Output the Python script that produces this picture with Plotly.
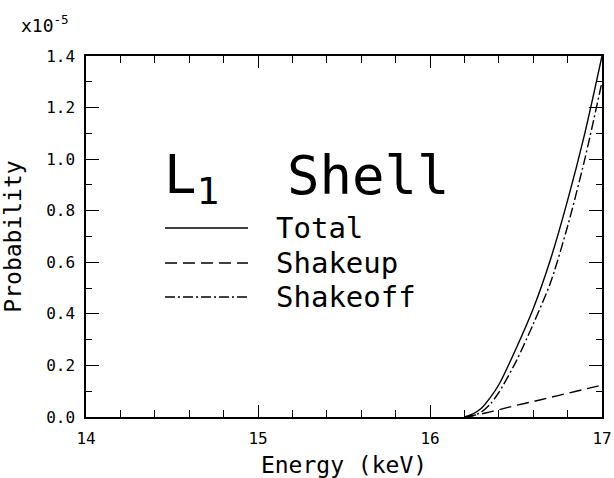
import plotly.graph_objects as go

# ---- data (probability in units of 1e-5) ----
energy_kev = [16.2, 16.25, 16.3, 16.35, 16.4, 16.5, 16.6, 16.7, 16.8, 16.9, 17.0]
total = [0.0, 0.012, 0.035, 0.075, 0.125, 0.265, 0.42, 0.61, 0.84, 1.10, 1.40]
shakeup = [0.0, 0.006, 0.012, 0.020, 0.028, 0.045, 0.060, 0.076, 0.092, 0.108, 0.124]
shakeoff = [0.0, 0.005, 0.02, 0.05, 0.095, 0.215, 0.36, 0.52, 0.74, 1.00, 1.30]

x_tickvals = [14, 15, 16, 17]
x_ticktext = ["14", "15", "16", "17"]
y_tickvals = [0.0, 0.2, 0.4, 0.6, 0.8, 1.0, 1.2, 1.4]
y_ticktext = ["0.0", "0.2", "0.4", "0.6", "0.8", "1.0", "1.2", "1.4"]

series_names = ["Total", "Shakeup", "Shakeoff"]
series_values = [total, shakeup, shakeoff]
series_dash = ["solid", "12px,6px", "10px,3px,2px,3px"]

FONT = "DejaVu Sans Mono"
W, H = 614, 478
L, R, T, B = 86, 12, 56, 61
PW, PH = W - L - R, H - T - B


def px(xp):
    return (xp - L) / PW


def py(yp):
    return 1 - (yp - T) / PH


fig = go.Figure()
for name, vals, dash in zip(series_names, series_values, series_dash):
    fig.add_trace(go.Scatter(x=energy_kev, y=vals, mode="lines", name=name,
                             line=dict(color="black", width=1.4, dash=dash, shape="spline",
                                       smoothing=0.8),
                             showlegend=False))

axis_common = dict(showline=True, linecolor="black", linewidth=1.5, mirror="ticks",
                   ticks="inside", tickcolor="black", tickwidth=1.2, automargin=False,
                   showgrid=False, zeroline=False,
                   tickfont=dict(family=FONT, size=16, color="black"))

fig.update_xaxes(range=[14, 17], tickvals=x_tickvals, ticktext=x_ticktext, ticklen=12,
                 ticklabelstandoff=6,
                 minor=dict(ticks="inside", ticklen=7, dtick=0.2, tickcolor="black", tickwidth=1.2),
                 title=dict(text="Energy (keV)", font=dict(family=FONT, size=23, color="black"),
                            standoff=12),
                 **axis_common)
fig.update_yaxes(range=[0, 1.4], tickvals=y_tickvals, ticktext=y_ticktext, ticklen=13,
                 ticklabelstandoff=6,
                 minor=dict(ticks="inside", ticklen=6, dtick=0.1, tickcolor="black", tickwidth=1.2),
                 title=dict(text="Probability", font=dict(family=FONT, size=23, color="black"),
                            standoff=24),
                 **axis_common)

annotations = [
    dict(text="x10<sup>-5</sup>", x=px(19), y=py(24), xanchor="left", yanchor="middle",
         font=dict(family=FONT, size=18, color="black")),
    dict(text="L<sub>1</sub>", x=px(162), y=py(178), xanchor="left", yanchor="middle",
         font=dict(family=FONT, size=54, color="black")),
    dict(text="Shell", x=px(285), y=py(175), xanchor="left", yanchor="middle",
         font=dict(family=FONT, size=54, color="black")),
]
legend_rows_y = [228, 263, 297]
shapes = []
for name, dash, yrow in zip(series_names, series_dash, legend_rows_y):
    shapes.append(dict(type="line", xref="paper", yref="paper", x0=px(165), x1=px(248),
                       y0=py(yrow), y1=py(yrow), line=dict(color="black", width=1.4, dash=dash)))
    annotations.append(dict(text=name, x=px(274), y=py(yrow), xanchor="left", yanchor="middle",
                            font=dict(family=FONT, size=29, color="black")))

for a in annotations:
    a.update(xref="paper", yref="paper", showarrow=False)

fig.update_layout(width=W, height=H, margin=dict(l=L, r=R, t=T, b=B),
                  paper_bgcolor="white", plot_bgcolor="white",
                  annotations=annotations, shapes=shapes)

fig.write_html("out.html", config={"displayModeBar": False},
               post_script="document.body.style.margin='0';document.body.style.overflow='hidden';")
